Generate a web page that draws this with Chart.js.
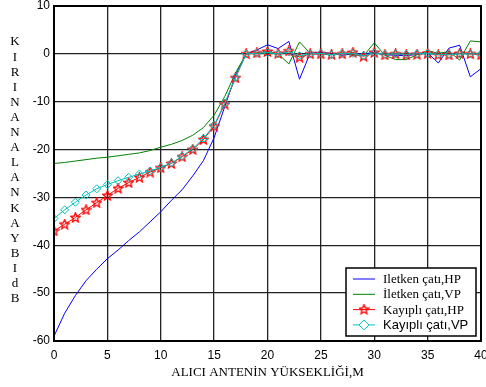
<!DOCTYPE html>
<html>
<head>
<meta charset="utf-8">
<script src="https://cdn.jsdelivr.net/npm/chart.js@4.4.0/dist/chart.umd.min.js"></script>
<style>
  html, body { margin: 0; padding: 0; background: #fff; }
</style>
</head>
<body>
<canvas id="js--chart--1" width="486" height="387"></canvas>
<script>
// receiver antenna height, m
const heights = [0, 1, 2, 3, 4, 5, 6, 7, 8, 9, 10, 11, 12, 13, 14, 15, 16, 17, 18, 19, 20,
  21, 22, 23, 24, 25, 26, 27, 28, 29, 30, 31, 32, 33, 34, 35, 36, 37, 38, 39, 40];

const seriesLabels = ["Iletken çatı,HP", "İletken çatı,VP", "Kayıplı çatı,HP", "Kayıplı çatı,VP"];

// diffraction loss, dB
const conductorHP = [-59, -54.2, -50.5, -47.4, -45, -42.8, -41, -39, -37.2, -35.1, -33,
  -30.6, -28.4, -25.5, -22.3, -17.5, -11, -4.5, 0, 0.8, 1.9,
  1.1, 2.6, -5.3, 0.2, 0.3, 0.1, -0.3, 0, 0, 0.3,
  -0.2, -0.3, -0.4, -0.1, 0.2, -1.9, 1.2, 1.8, -4.8, -3.1];
const conductorVP = [-22.9, -22.7, -22.4, -22.1, -21.8, -21.6, -21.3, -21.0, -20.7, -20.2, -19.5,
  -18.9, -18.1, -17.0, -15.4, -12.8, -8.9, -4.0, 0, 0.2, 0.2,
  0, -2.1, 2.5, 0.1, 0, -0.2, 0.2, -0.2, -0.4, 2.3,
  -0.3, -1.2, -1.2, -0.2, 0.7, 0.1, 0.5, -1.3, 2.7, 2.5];
const lossyHP = [-37, -35.6, -34.2, -32.6, -31.1, -29.6, -28.1, -26.9, -25.8, -24.7, -23.8,
  -22.9, -21.5, -20, -17.9, -15.1, -10.5, -5, 0, 0.2, 0.5,
  0.1, 0.6, -0.7, 0, 0, -0.1, 0, 0.3, -0.5, 0.3,
  -0.2, 0, -0.2, -0.1, 0.1, -0.2, -0.2, 0.1, 0, -0.2];
const lossyVP = [-34.4, -32.6, -31, -29.5, -28.2, -27.3, -26.5, -25.8, -25.1, -24.5, -23.7,
  -22.8, -21.4, -19.8, -17.7, -14.9, -10.3, -4.9, 0, 0.1, 0.3,
  0, 0.4, -0.4, 0, 0.1, -0.2, 0.1, 0.1, -0.4, 0.2,
  -0.1, 0, -0.1, 0, 0.1, -0.1, -0.1, 0, 0, 0];

const xTicks = [0, 5, 10, 15, 20, 25, 30, 35, 40];
const yTicks = [-60, -50, -40, -30, -20, -10, 0, 10];

const yTitle = "KIRINANALANKAYBIdB";
const xTitle = "ALICI ANTENİN YÜKSEKLİĞİ,M";

const toPoints = (vals) => vals.map((v, i) => ({ x: heights[i], y: v }));

// 5-point star marker
function makeStar(color) {
  const c = document.createElement("canvas");
  c.width = 11; c.height = 11;
  const g = c.getContext("2d");
  g.strokeStyle = color;
  g.lineWidth = 1.3;
  g.beginPath();
  for (let k = 0; k < 10; k++) {
    const r = k % 2 === 0 ? 5 : 2.2;
    const a = -Math.PI / 2 + k * Math.PI / 5;
    const px = 5.5 + r * Math.cos(a), py = 5.8 + r * Math.sin(a);
    if (k === 0) g.moveTo(px, py); else g.lineTo(px, py);
  }
  g.closePath();
  g.stroke();
  return c;
}
const star = makeStar("#ff0000");

const frameAndTitles = {
  id: "frameAndTitles",
  afterDraw(chart) {
    const ctx = chart.ctx;
    const a = chart.chartArea;
    ctx.save();
    // plot box
    ctx.strokeStyle = "#000";
    ctx.lineWidth = 2;
    ctx.strokeRect(a.left, a.top, a.right - a.left, a.bottom - a.top);

    // stacked y title
    ctx.fillStyle = "#000";
    ctx.font = "13px 'Liberation Serif'";
    ctx.textAlign = "center";
    ctx.textBaseline = "middle";
    for (let i = 0; i < yTitle.length; i++) {
      ctx.fillText(yTitle[i], 15, 42 + i * 15.1);
    }

    // legend
    const bx = 346, by = 268, bw = 130, bh = 68;
    ctx.fillStyle = "#fff";
    ctx.fillRect(bx, by, bw, bh);
    ctx.strokeStyle = "#000";
    ctx.lineWidth = 1.5;
    ctx.strokeRect(bx, by, bw, bh);
    chart.data.datasets.forEach((ds, i) => {
      const y = by + 11 + i * 15.3;
      ctx.strokeStyle = ds.borderColor;
      ctx.lineWidth = 1;
      ctx.beginPath();
      ctx.moveTo(353, y);
      ctx.lineTo(375, y);
      ctx.stroke();
      if (ds.pointStyle === "rectRot") {
        ctx.strokeStyle = ds.pointBorderColor;
        ctx.beginPath();
        ctx.moveTo(364, y - 5); ctx.lineTo(369, y); ctx.lineTo(364, y + 5); ctx.lineTo(359, y);
        ctx.closePath();
        ctx.fillStyle = "#fff";
        ctx.fill();
        ctx.stroke();
      } else if (ds.pointStyle instanceof HTMLCanvasElement) {
        ctx.drawImage(ds.pointStyle, 364 - 5.5, y - 5.8);
      }
      ctx.fillStyle = "#000";
      ctx.textAlign = "left";
      ctx.font = i === 3 ? "13px 'Liberation Sans'" : "13px 'Liberation Serif'";
      ctx.fillText(ds.label, 383, y + 0.5);
    });
    ctx.restore();
  }
};

const config = {
  type: "line",
  data: {
    datasets: [
      {
        label: seriesLabels[0],
        data: toPoints(conductorHP),
        borderColor: "#0000ff",
        borderWidth: 1,
        pointRadius: 0,
        order: 3,
      },
      {
        label: seriesLabels[1],
        data: toPoints(conductorVP),
        borderColor: "#008000",
        borderWidth: 1,
        pointRadius: 0,
        order: 2,
      },
      {
        label: seriesLabels[2],
        data: toPoints(lossyHP),
        borderColor: "#ff0000",
        borderWidth: 1,
        pointStyle: star,
        pointBorderColor: "#ff0000",
        order: 1,
      },
      {
        label: seriesLabels[3],
        data: toPoints(lossyVP),
        borderColor: "#00bfbf",
        borderWidth: 1,
        pointStyle: "rectRot",
        pointRadius: 4,
        pointBorderColor: "#00bfbf",
        pointBackgroundColor: "rgba(255,255,255,0)",
        pointBorderWidth: 1,
        order: 0,
      },
    ],
  },
  options: {
    responsive: false,
    animation: false,
    devicePixelRatio: 1,
    layout: { padding: { top: 6, right: 4, left: 0, bottom: 0 } },
    plugins: { legend: { display: false }, tooltip: { enabled: false } },
    elements: { line: { tension: 0 } },
    scales: {
      x: {
        type: "linear",
        min: 0,
        max: 40,
        afterBuildTicks: (s) => { s.ticks = xTicks.map((v) => ({ value: v })); },
        afterFit: (s) => { s.height = 46; s.paddingLeft = 0; s.paddingRight = 0; },
        grid: { color: "#222", lineWidth: 1.3, drawTicks: false },
        border: { display: false },
        ticks: { color: "#000", padding: 7, maxRotation: 0, font: { family: "'Liberation Sans'", size: 12 } },
        title: {
          display: true,
          text: xTitle,
          color: "#000",
          font: { family: "'Liberation Serif'", size: 13 },
          padding: { top: 2, bottom: 7 },
        },
      },
      y: {
        type: "linear",
        min: -60,
        max: 10,
        afterBuildTicks: (s) => { s.ticks = yTicks.map((v) => ({ value: v })); },
        afterFit: (s) => { s.width = 54; s.paddingTop = 0; s.paddingBottom = 0; },
        grid: { color: "#222", lineWidth: 1.3, drawTicks: false },
        border: { display: false },
        ticks: { color: "#000", padding: 4, font: { family: "'Liberation Sans'", size: 12 } },
      },
    },
  },
  plugins: [frameAndTitles],
};

new Chart(document.getElementById("js--chart--1"), config);
</script>
</body>
</html>
